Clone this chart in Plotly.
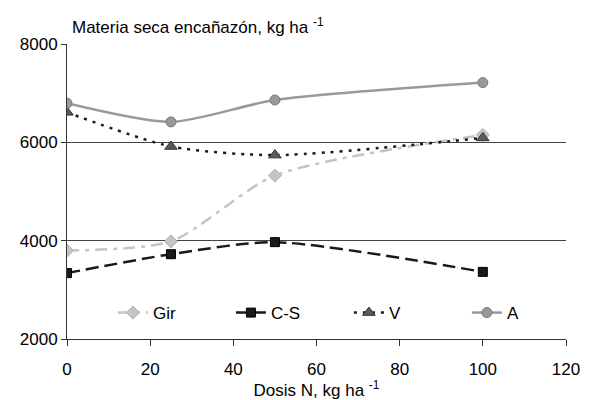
import plotly.graph_objects as go

# Dosis de N (kg/ha) y materia seca a encañazón (kg/ha) por variedad
dosis = [0, 25, 50, 100]
gir = [3800, 3985, 5325, 6150]
cs = [3340, 3725, 3970, 3365]
v = [6610, 5915, 5740, 6090]
a = [6795, 6415, 6860, 7215]

x_ticks = [0, 20, 40, 60, 80, 100, 120]
y_ticks = [2000, 4000, 6000, 8000]

FONT = "Liberation Sans, Arial, sans-serif"
SMOOTH = 0.7

fig = go.Figure()

fig.add_trace(go.Scatter(
    x=dosis, y=gir, name="Gir", mode="lines+markers",
    line=dict(color="#c4c4c4", width=2.5, shape="spline", smoothing=SMOOTH,
              dash="12px,6px,4px,6px"),
    marker=dict(symbol="diamond", size=10, color="#c4c4c4",
                line=dict(color="#b0b0b0", width=1)),
))
fig.add_trace(go.Scatter(
    x=dosis, y=cs, name="C-S", mode="lines+markers",
    line=dict(color="#1a1a1a", width=2.5, shape="spline", smoothing=SMOOTH,
              dash="13px,6px"),
    marker=dict(symbol="square", size=9, color="#1a1a1a",
                line=dict(color="#000000", width=1)),
))
fig.add_trace(go.Scatter(
    x=dosis, y=v, name="V", mode="lines+markers",
    line=dict(color="#1a1a1a", width=2.5, shape="spline", smoothing=SMOOTH,
              dash="3px,6px"),
    marker=dict(symbol="triangle-up", size=11, color="#5a5a5a",
                line=dict(color="#333333", width=1)),
))
fig.add_trace(go.Scatter(
    x=dosis, y=a, name="A", mode="lines+markers",
    line=dict(color="#999999", width=2.5, shape="spline", smoothing=SMOOTH),
    marker=dict(symbol="circle", size=10, color="#999999",
                line=dict(color="#7a7a7a", width=1)),
))

fig.update_layout(
    width=597, height=400,
    margin=dict(l=67, r=31, t=44, b=61),
    paper_bgcolor="white", plot_bgcolor="white",
    font=dict(family=FONT, size=17, color="#000000"),
    showlegend=True,
    legend=dict(
        orientation="h", x=0.092, y=0.088, xanchor="left", yanchor="middle",
        bgcolor="rgba(0,0,0,0)", font=dict(size=17),
        entrywidth=73, entrywidthmode="pixels",
        traceorder="normal",
    ),
    xaxis=dict(
        range=[0, 120], tickvals=x_ticks, ticktext=[str(t) for t in x_ticks],
        showgrid=False, zeroline=False, automargin=False,
        showline=True, linecolor="#333333", linewidth=1,
        ticks="outside", ticklen=6, tickcolor="#333333",
        ticklabelstandoff=9,
        tickfont=dict(size=17),
        title=dict(text="Dosis N, kg ha <sup>-1</sup>", font=dict(size=17),
                   standoff=9),
    ),
    yaxis=dict(
        range=[2000, 8000], tickvals=y_ticks, ticktext=[str(t) for t in y_ticks],
        showgrid=True, gridcolor="#444444", gridwidth=1,
        zeroline=False, automargin=False,
        showline=True, linecolor="#333333", linewidth=1,
        ticks="outside", ticklen=5, tickcolor="#333333",
        tickfont=dict(size=17),
    ),
    annotations=[dict(
        text="Materia seca encañazón, kg ha <sup>-1</sup>",
        xref="paper", yref="paper", x=0.006, y=1.0, xanchor="left",
        yanchor="bottom", yshift=5, showarrow=False,
        font=dict(family=FONT, size=17, color="#000000"),
    )],
)

fig.write_html("out.html")
